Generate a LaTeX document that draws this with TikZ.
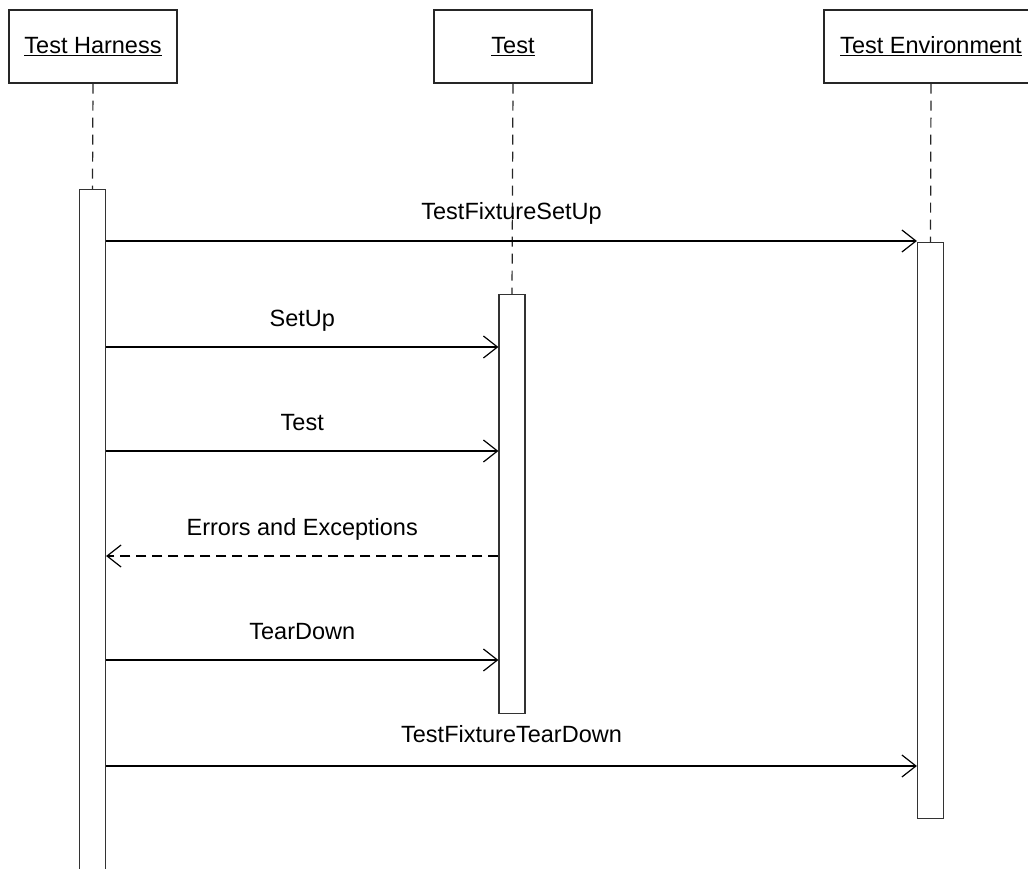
\documentclass[tikz,border=0pt]{standalone}
\usepackage{fontspec}
\setmainfont{Liberation Sans}
\usetikzlibrary{arrows.meta}
\begin{document}
\begin{tikzpicture}[x=1pt,y=-1pt,
  line width=1.2pt,
  header/.style={draw=black!85, rectangle, minimum width=168pt, minimum height=73pt, inner sep=0pt, font=\fontsize{23.5}{26}\selectfont},
  actbar/.style={draw=black!80, fill=white, rectangle, minimum width=26pt, inner sep=0pt},
  lifeline/.style={draw=black!85, dash pattern=on 10pt off 7pt},
  msg/.style={draw=black, -{Straight Barb[length=14pt, width=22pt, line width=1.2pt]}},
  reply/.style={msg, dash pattern=on 10pt off 6pt},
  lbl/.style={anchor=base, inner sep=0pt, font=\fontsize{23.5}{26}\selectfont}]
\useasboundingbox (0,0) rectangle (1028,869);
\clip (0,0) rectangle (1028,869);

% participants
\node[header] (harness) at (93,46.5) {\underline{Test Harness}};
\node[header, minimum width=158pt] (test) at (513,46.5) {\underline{Test}};
\node[header, minimum width=214pt] (env) at (931,46.5) {\underline{Test Environment}};

% activation bars
\node[actbar, minimum height=700pt, anchor=north] (hact) at (92.5,189) {};
\node[actbar, minimum height=419pt, anchor=north] (tact) at (512,294) {};
\node[actbar, minimum height=576pt, anchor=north] (eact) at (930.5,242) {};

% lifelines
\draw[lifeline] (harness.south) -- (hact.north);
\draw[lifeline] (test.south) -- (tact.north);
\draw[lifeline] (env.south) -- (eact.north);

% messages
\draw[msg] (hact.east |- 0,241) -- (eact.west |- 0,241)
  node[lbl, midway, yshift=21pt] (m1) {TestFixtureSetUp};
\draw[msg] (hact.east |- 0,347) -- (tact.west |- 0,347)
  node[lbl, midway, yshift=21pt] (m2) {SetUp};
\draw[msg] (hact.east |- 0,451) -- (tact.west |- 0,451)
  node[lbl, midway, yshift=21pt] (m3) {Test};
\draw[reply] (tact.west |- 0,556) -- (hact.east |- 0,556)
  node[lbl, midway, yshift=21pt] (m4) {Errors and Exceptions};
\draw[msg] (hact.east |- 0,660) -- (tact.west |- 0,660)
  node[lbl, midway, yshift=21pt] (m5) {TearDown};
\draw[msg] (hact.east |- 0,766) -- (eact.west |- 0,766)
  node[lbl, midway, yshift=24pt] (m6) {TestFixtureTearDown};
\end{tikzpicture}
\end{document}
